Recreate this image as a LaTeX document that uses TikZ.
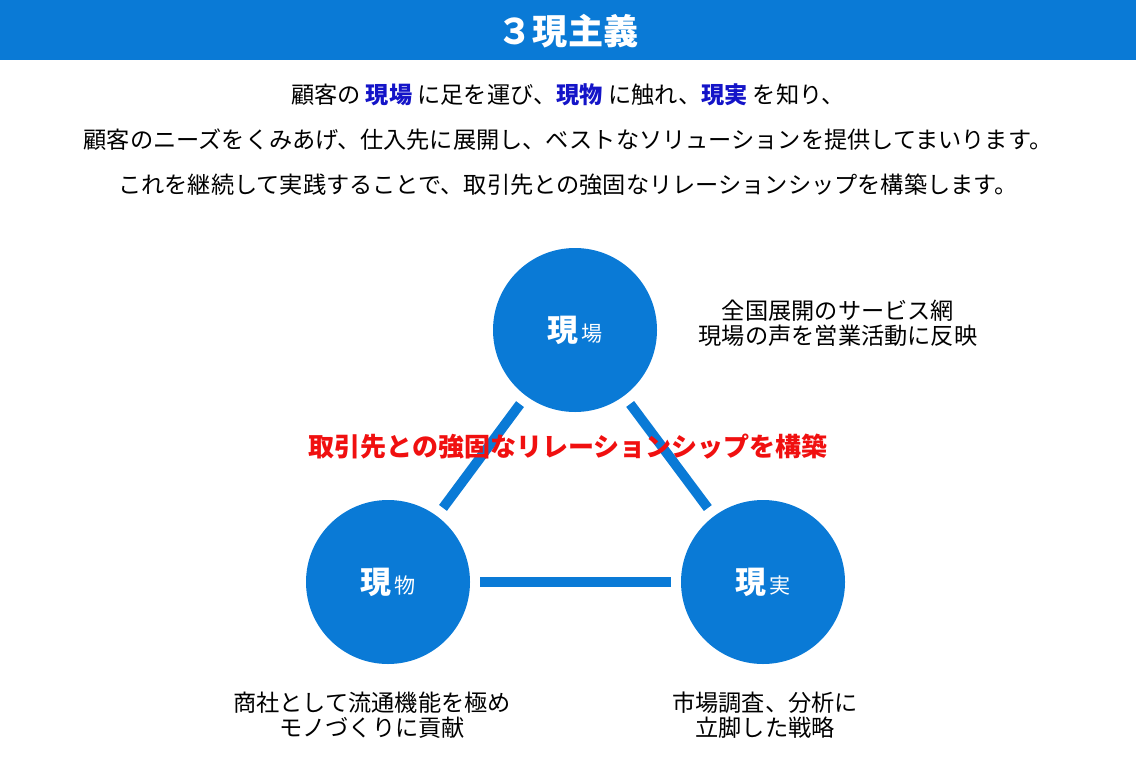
\documentclass[tikz,border=0pt]{standalone}
\usepackage{fontspec}
\setmainfont{Noto Sans CJK JP}
\definecolor{barblue}{HTML}{0A7AD6}
\definecolor{keyblue}{HTML}{1414C8}
\definecolor{relred}{HTML}{F01010}
\newcommand{\kw}[1]{\textcolor{keyblue}{\bfseries #1}}
\begin{document}
\begin{tikzpicture}[x=0.025cm,y=-0.025cm]
    % Rahmen
    \useasboundingbox (0,0) rectangle (1136,756);
    \fill[barblue] (0,0) rectangle (1136,60);
    \node[text=white,font=\fontsize{25}{30}\selectfont\bfseries] (title) at (568,31) {３現主義};

    % Einleitung
    \tikzset{intro/.style={font=\fontsize{16.5}{20}\selectfont}}
    \node[intro] (line1) at (568,95) {顧客の \kw{現場} に足を運び、\kw{現物} に触れ、\kw{現実} を知り、};
    \node[intro] (line2) at (568,140) {顧客のニーズをくみあげ、仕入先に展開し、ベストなソリューションを提供してまいります。};
    \node[intro] (line3) at (568,185) {これを継続して実践することで、取引先との強固なリレーションシップを構築します。};

    % Kreise
    \tikzset{gen/.style={circle,fill=barblue,minimum size=164*0.025cm,inner sep=0pt,text=white},
             link/.style={barblue,line width=7pt,shorten >=10*0.025cm,shorten <=10*0.025cm},
             note/.style={font=\fontsize{16.5}{20}\selectfont,align=center}}
    \node[gen] (ba) at (575,330) {{\fontsize{22}{26}\selectfont\bfseries 現}\,{\fontsize{15}{18}\selectfont 場}};
    \node[gen] (butsu) at (388,582) {{\fontsize{22}{26}\selectfont\bfseries 現}\,{\fontsize{15}{18}\selectfont 物}};
    \node[gen] (jitsu) at (763,582) {{\fontsize{22}{26}\selectfont\bfseries 現}\,{\fontsize{15}{18}\selectfont 実}};

    % Verbindungen
    \draw[link] (ba) -- (butsu);
    \draw[link] (ba) -- (jitsu);
    \draw[link] (butsu) -- (jitsu);

    \node[text=relred,font=\fontsize{18.5}{22}\selectfont\bfseries] (rel) at (568,447) {取引先との強固なリレーションシップを構築};

    % Beschriftungen
    \node[note] (noteba) at (838,323) {全国展開のサービス網\\[-2pt]現場の声を営業活動に反映};
    \node[note] (notebutsu) at (372,715) {商社として流通機能を極め\\[-2pt]モノづくりに貢献};
    \node[note] (notejitsu) at (765,715) {市場調査、分析に\\[-2pt]立脚した戦略};
\end{tikzpicture}
\end{document}
